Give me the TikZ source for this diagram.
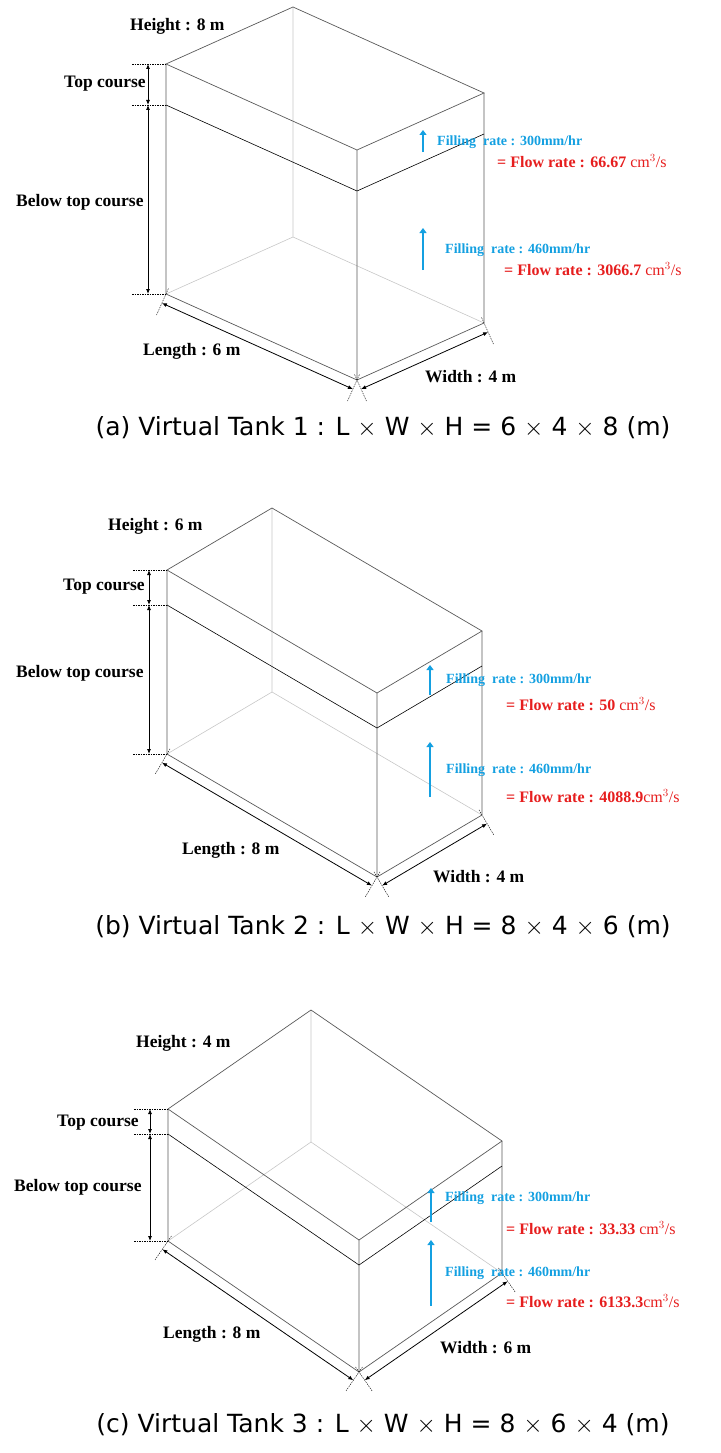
\documentclass[tikz,border=0pt]{standalone}
\usepackage{fontspec}
\setmainfont{Liberation Serif}
\newfontfamily\capfont{DejaVu Sans}
\usetikzlibrary{calc,arrows.meta}
\definecolor{fillblue}{RGB}{20,160,225}
\definecolor{flowred}{RGB}{230,30,30}
\tikzset{
 edge/.style={draw=black!65,line width=0.7pt},
 hidden/.style={draw=black!22,line width=0.6pt},
 course/.style={draw=black,line width=0.6pt},
 ext/.style={draw=black,dashed,line width=0.4pt,dash pattern=on 1.5pt off 1pt},
 dim/.style={draw=black,line width=0.8pt,{Latex[length=5pt,width=4pt]}-{Latex[length=5pt,width=4pt]}},
 fill arrow/.style={draw=fillblue,line width=2.4pt,-{Triangle[length=5pt,width=7pt]}},
 lab/.style={font=\fontsize{17.5}{19}\selectfont\bfseries,anchor=west,inner sep=0},
 bluelab/.style={font=\fontsize{14}{16}\selectfont\bfseries,text=fillblue,anchor=west,inner sep=0},
 redlab/.style={font=\fontsize{16}{18}\selectfont\bfseries,text=flowred,anchor=west,inner sep=0},
 caplab/.style={font=\capfont\fontsize{25}{28}\selectfont,inner sep=0},
}
\newcommand\tank[9]{%
 \coordinate (#1TL) at (#2,#3);
 \coordinate (#1TB) at ($(#1TL)+(#4,#5)$);
 \coordinate (#1TF) at ($(#1TL)+(#6,#7)$);
 \coordinate (#1TR) at ($(#1TB)+(#6,#7)$);
 \foreach \p in {TL,TB,TF,TR}{
   \coordinate (#1C\p) at ($(#1\p)+(0,#8)$);
   \coordinate (#1B\p) at ($(#1\p)+(0,#9)$);}
 \path[hidden] (#1TB)--(#1BTB) (#1BTL)--(#1BTB)--(#1BTR);
 \path[edge] (#1TL)--(#1TB)--(#1TR)--(#1TF)--cycle;
 \path[edge] (#1TL)--(#1BTL)--(#1BTF)--(#1BTR)--(#1TR) (#1TF)--(#1BTF);
 \path[course] (#1CTL)--(#1CTF)--(#1CTR);
 \foreach \p in {TL,CTL,BTL}{\path[ext] ($(#1\p)+(-34,0)$)--(#1\p);}
 \path[dim] ($(#1TL)+(-18,0)$)--($(#1CTL)+(-18,0)$);
 \path[dim] ($(#1CTL)+(-18,0)$)--($(#1BTL)+(-18,0)$);
 \path[ext] ($(#1BTL)!-6pt!-90:(#1BTF)$)--($(#1BTL)!24pt!-90:(#1BTF)$);
 \path[ext] ($(#1BTF)!-6pt!90:(#1BTL)$)--($(#1BTF)!24pt!90:(#1BTL)$);
 \path[ext] ($(#1BTF)!-6pt!-90:(#1BTR)$)--($(#1BTF)!24pt!-90:(#1BTR)$);
 \path[ext] ($(#1BTR)!-6pt!90:(#1BTF)$)--($(#1BTR)!24pt!90:(#1BTF)$);
 \path[dim] ($(#1BTL)!10pt!-90:(#1BTF)$)--($(#1BTF)!10pt!90:(#1BTL)$);
 \path[dim] ($(#1BTF)!10pt!-90:(#1BTR)$)--($(#1BTR)!10pt!90:(#1BTF)$);
}
\begin{document}
\begin{tikzpicture}[x=1pt,y=-1pt]
\useasboundingbox (0,0) rectangle (720,1453);
% ---------- Tank 1
\tank{a}{166}{64}{127}{-57}{191}{86}{41}{230}
\node[lab] (a1) at (130,26) {Height : 8 m};
\node[lab] (a2) at (64,84) {Top course};
\node[lab] (a3) at (16,202) {Below top course};
\node[lab] (a4) at (143,351) {Length : 6 m};
\node[lab] (a5) at (425,377) {Width : 4 m};
\coordinate (aa1) at (423,152); \coordinate (aa2) at (423,130);
\coordinate (ab1) at (423,270); \coordinate (ab2) at (423,228);
\path[fill arrow] (aa1)--(aa2);
\path[fill arrow] (ab1)--(ab2);
\node[bluelab] (a6) at (437,142) {Filling\ \ rate : 300mm/hr};
\node[redlab] (a7) at (497,161) {= Flow rate : 66.67 {\mdseries cm$^3$/s}};
\node[bluelab] (a8) at (445,250) {Filling\ \ rate : 460mm/hr};
\node[redlab] (a9) at (504,269) {= Flow rate : 3066.7 {\mdseries cm$^3$/s}};
\node[caplab] (acap) at (383,428) {(a) Virtual Tank 1 : L $\times$ W $\times$ H = 6 $\times$ 4 $\times$ 8 (m)};
% ---------- Tank 2
\tank{b}{167}{570}{105}{-62}{210}{123}{35}{184}
\node[lab] (b1) at (108,526) {Height : 6 m};
\node[lab] (b2) at (63,587) {Top course};
\node[lab] (b3) at (16,673) {Below top course};
\node[lab] (b4) at (182,850) {Length : 8 m};
\node[lab] (b5) at (433,877) {Width : 4 m};
\coordinate (ba1) at (430,695); \coordinate (ba2) at (430,665);
\coordinate (bb1) at (430,797); \coordinate (bb2) at (430,742);
\path[fill arrow] (ba1)--(ba2);
\path[fill arrow] (bb1)--(bb2);
\node[bluelab] (b6) at (446,680) {Filling\ \ rate : 300mm/hr};
\node[redlab] (b7) at (506,704) {= Flow rate : 50 {\mdseries cm$^3$/s}};
\node[bluelab] (b8) at (446,770) {Filling\ \ rate : 460mm/hr};
\node[redlab] (b9) at (506,796) {= Flow rate : 4088.9{\mdseries cm$^3$/s}};
\node[caplab] (bcap) at (383,927) {(b) Virtual Tank 2 : L $\times$ W $\times$ H = 8 $\times$ 4 $\times$ 6 (m)};
% ---------- Tank 3
\tank{c}{168}{1109}{143}{-99}{191}{131}{25}{132}
\node[lab] (c1) at (136,1043) {Height : 4 m};
\node[lab] (c2) at (57,1123) {Top course};
\node[lab] (c3) at (14,1187) {Below top course};
\node[lab] (c4) at (163,1334) {Length : 8 m};
\node[lab] (c5) at (440,1348) {Width : 6 m};
\coordinate (ca1) at (431,1222); \coordinate (ca2) at (431,1188);
\coordinate (cb1) at (431,1306); \coordinate (cb2) at (431,1240);
\path[fill arrow] (ca1)--(ca2);
\path[fill arrow] (cb1)--(cb2);
\node[bluelab] (c6) at (445,1198) {Filling\ \ rate : 300mm/hr};
\node[redlab] (c7) at (506,1228) {= Flow rate : 33.33 {\mdseries cm$^3$/s}};
\node[bluelab] (c8) at (445,1273) {Filling\ \ rate : 460mm/hr};
\node[redlab] (c9) at (506,1301) {= Flow rate : 6133.3{\mdseries cm$^3$/s}};
\node[caplab] (ccap) at (383,1425) {(c) Virtual Tank 3 : L $\times$ W $\times$ H = 8 $\times$ 6 $\times$ 4 (m)};
\end{tikzpicture}
\end{document}
